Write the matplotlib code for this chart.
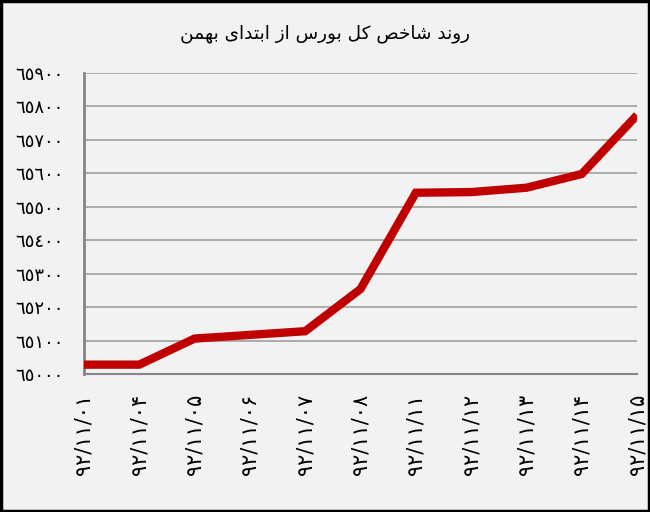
import matplotlib
matplotlib.use("Agg")
import matplotlib.pyplot as plt
from matplotlib.patches import Rectangle

# data
dates = ["۹۲/۱۱/۰۱", "۹۲/۱۱/۰۴", "۹۲/۱۱/۰۵", "۹۲/۱۱/۰۶", "۹۲/۱۱/۰۷", "۹۲/۱۱/۰۸",
         "۹۲/۱۱/۱۱", "۹۲/۱۱/۱۲", "۹۲/۱۱/۱۳", "۹۲/۱۱/۱۴", "۹۲/۱۱/۱۵"]
index_values = [65028, 65028, 65106, 65117, 65128, 65254, 65542, 65544, 65557, 65598, 65774]
y_ticks = list(range(65000, 66000, 100))
title = "روند شاخص کل بورس از ابتدای بهمن"

# matplotlib has no arabic shaping -> do it by hand
# (isolated, final, initial, medial)
FORMS = {
    "ا": ("\uFE8D", "\uFE8E", None, None),
    "ب": ("\uFE8F", "\uFE90", "\uFE91", "\uFE92"),
    "ت": ("\uFE95", "\uFE96", "\uFE97", "\uFE98"),
    "خ": ("\uFEA5", "\uFEA6", "\uFEA7", "\uFEA8"),
    "د": ("\uFEA9", "\uFEAA", None, None),
    "ر": ("\uFEAD", "\uFEAE", None, None),
    "ز": ("\uFEAF", "\uFEB0", None, None),
    "س": ("\uFEB1", "\uFEB2", "\uFEB3", "\uFEB4"),
    "ش": ("\uFEB5", "\uFEB6", "\uFEB7", "\uFEB8"),
    "ص": ("\uFEB9", "\uFEBA", "\uFEBB", "\uFEBC"),
    "ل": ("\uFEDD", "\uFEDE", "\uFEDF", "\uFEE0"),
    "م": ("\uFEE1", "\uFEE2", "\uFEE3", "\uFEE4"),
    "ن": ("\uFEE5", "\uFEE6", "\uFEE7", "\uFEE8"),
    "ه": ("\uFEE9", "\uFEEA", "\uFEEB", "\uFEEC"),
    "و": ("\uFEED", "\uFEEE", None, None),
    "ک": ("\uFB8E", "\uFB8F", "\uFB90", "\uFB91"),
    "ی": ("\uFBFC", "\uFBFD", "\uFBFE", "\uFBFF"),
}


def shape(text):
    out = []
    chars = list(text)
    for i, c in enumerate(chars):
        if c not in FORMS:
            out.append(c)
            continue
        prev = chars[i - 1] if i > 0 else None
        nxt = chars[i + 1] if i + 1 < len(chars) else None
        join_prev = prev in FORMS and FORMS[prev][2] is not None
        join_next = nxt in FORMS and FORMS[c][2] is not None
        iso, fin, ini, med = FORMS[c]
        if join_prev and join_next:
            out.append(med)
        elif join_prev:
            out.append(fin)
        elif join_next:
            out.append(ini)
        else:
            out.append(iso)
    return "".join(out[::-1])


def arabic_digits(n):
    return str(n).translate(str.maketrans("0123456789", "٠١٢٣٤٥٦٧٨٩"))


bg = "#f2f2f2"
fig = plt.figure(figsize=(6.5, 5.12), dpi=100, facecolor=bg)
ax = fig.add_axes([0.1292, 0.2695, 0.8508, 0.5879], facecolor=bg)

x = list(range(len(dates)))
ax.plot(x, index_values, color="#c00000", lw=6, solid_joinstyle="miter", solid_capstyle="butt", zorder=3)

ax.set_xlim(0, len(dates) - 1)
ax.set_ylim(65000, 65900)
ax.set_yticks(y_ticks)
ax.set_yticklabels([arabic_digits(v) for v in y_ticks], fontsize=13)
ax.set_xticks(x)
ax.set_xticklabels(dates, rotation=90, fontsize=15)
ax.tick_params(length=0)
ax.tick_params(axis="y", pad=15)
ax.tick_params(axis="x", pad=14)

ax.grid(axis="y", color="#a6a6a6", lw=1.3)
ax.set_axisbelow(True)
for s in ["top", "right"]:
    ax.spines[s].set_visible(False)
ax.spines["left"].set_color("#868686")
ax.spines["left"].set_linewidth(2)
ax.spines["bottom"].set_color("#868686")
ax.spines["bottom"].set_linewidth(1.5)

fig.text(0.5, 0.935, shape(title), ha="center", va="center", fontsize=13.3)

fig.patches.append(Rectangle((0.002, 0.002), 0.996, 0.996, transform=fig.transFigure,
                             fill=False, edgecolor="black", lw=2.5))

fig.savefig("out.png", dpi=100, facecolor=bg)
